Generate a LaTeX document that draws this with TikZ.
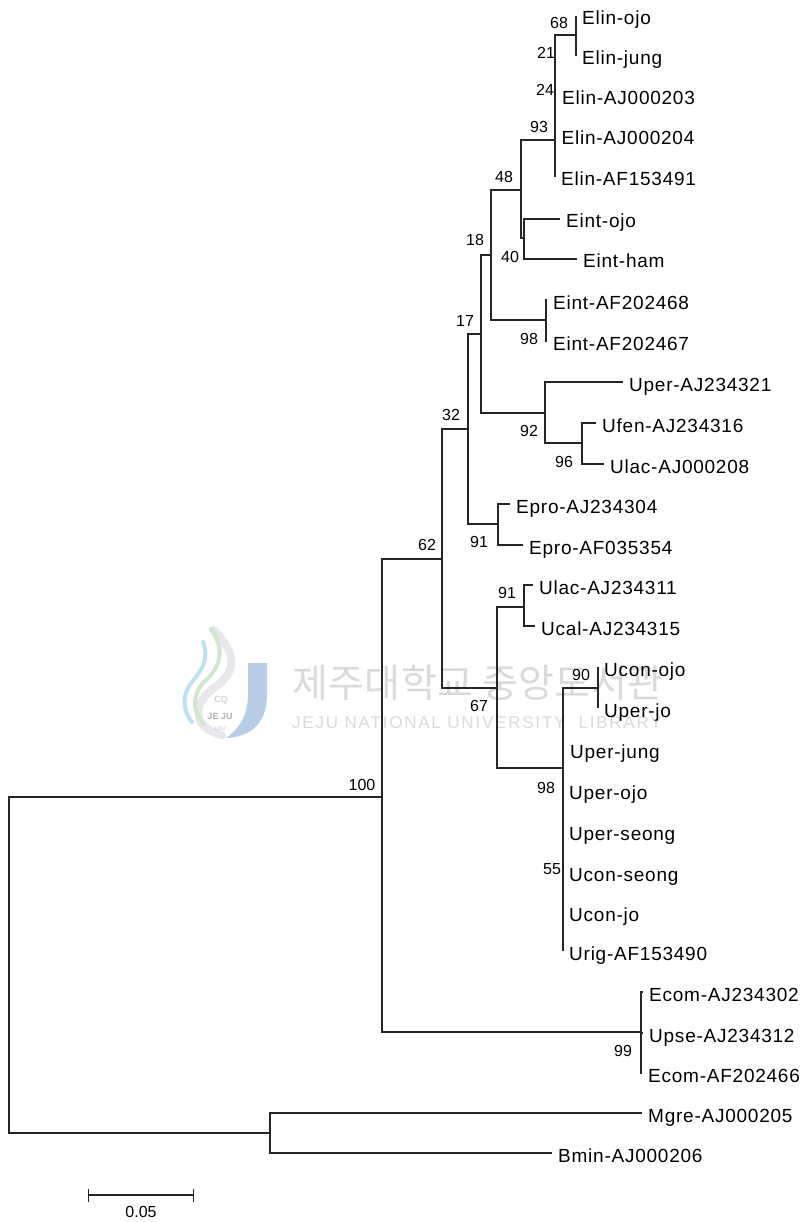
\documentclass[tikz,border=0pt]{standalone}
\usepackage{fontspec}
\setmainfont{Liberation Sans}
\newfontfamily\hangulfont{Noto Sans CJK KR}
\usepackage{tikz}
\usetikzlibrary{arrows.meta,positioning}
\definecolor{wmgray}{RGB}{218,218,218}
\definecolor{wmblue}{RGB}{186,205,230}
\definecolor{wmgreen}{RGB}{208,230,208}
\definecolor{wmsky}{RGB}{190,226,240}
\definecolor{wmsmoke}{RGB}{232,232,236}
\tikzset{
  leaflabel/.style={
    anchor=west,
    inner xsep=6pt,
    inner ysep=0pt,
    text height=23pt,
    text depth=5pt,
    font=\fontsize{19}{20}\selectfont\addfontfeature{LetterSpace=4}
  },
  support/.style={
    inner sep=0pt,
    font=\fontsize{16}{17}\selectfont
  },
  junction/.style={
    inner sep=0pt,
    minimum size=0pt
  },
  branch/.style={line width=1.3pt,black!85},
  scalebar/.style={{Bar[width=13pt,line width=1.2pt]}-{Bar[width=13pt,line width=1.2pt]},line width=1.7pt,black!85}
}
\begin{document}
\begin{tikzpicture}[x=1pt,y=-1pt]
  \useasboundingbox (0,0) rectangle (806,1222);
  % watermark
  \fill[wmblue] (248,663) -- (267,663) -- (267,695) .. controls (267,722) and (252,737) .. (226,738) .. controls (238,730) and (248,716) .. (248,695) -- cycle;
  \draw[wmsmoke,line width=8pt,line cap=round] (214,630) .. controls (238,655) and (236,672) .. (214,688) .. controls (192,704) and (192,728) .. (222,735);
  \draw[wmgreen,line width=4pt,line cap=round] (211,629) .. controls (226,650) and (220,668) .. (204,682) .. controls (192,694) and (192,712) .. (204,724);
  \draw[wmsky,line width=4pt,line cap=round] (203,642) .. controls (210,660) and (200,672) .. (192,682) .. controls (182,694) and (182,710) .. (192,722);
  \node[inner sep=0pt,text=black!25,font=\fontsize{9}{9}\selectfont] (wmcq) at (221,700) {CQ};
  \node[inner sep=0pt,text=black!30,font=\fontsize{9}{9}\bfseries\selectfont] (wmjeju) at (220,716) {JE JU};
  \node[inner sep=0pt,text=black!25,font=\fontsize{5}{5}\selectfont] (wmyear) at (220,729) {1952};
  \node[inner sep=0pt,text=wmgray,anchor=west,font=\fontsize{39}{41}\selectfont\hangulfont\addfontfeature{LetterSpace=1}] (wmname) at (292,683) {제주대학교 중앙도서관};
  \node[inner sep=0pt,text=wmgray,anchor=west,font=\fontsize{17}{18}\selectfont\addfontfeature{LetterSpace=10.5}] (wmlib) at (292,723) {JEJU NATIONAL UNIVERSITY\ \ LIBRARY};

  % internal nodes
  \node[junction] (root) at (9,965) {};
  \node[junction] (out) at (270,1133) {};
  \node[junction] (n100) at (382,797) {};
  \node[junction] (n99) at (641,1032) {};
  \node[junction] (n62) at (442,559) {};
  \node[junction] (n32) at (468,429) {};
  \node[junction] (n67) at (497,688) {};
  \node[junction] (n17) at (481,334) {};
  \node[junction] (nepro) at (498,524) {};
  \node[junction] (n18) at (491,255) {};
  \node[junction] (n92) at (545,413) {};
  \node[junction] (n48) at (521,190) {};
  \node[junction] (neint) at (546,320) {};
  \node[junction] (n93) at (555,140) {};
  \node[junction] (n40) at (524,238) {};
  \node[junction] (n68) at (576,35) {};
  \node[junction] (n96) at (582,443) {};
  \node[junction] (nulac) at (524,607) {};
  \node[junction] (n98) at (563,768) {};
  \node[junction] (n90) at (598,688) {};

  % leaves
  \node[leaflabel] (elinojo) at (576,16) {Elin-ojo};
  \node[leaflabel] (elinjung) at (576,56) {Elin-jung};
  \node[leaflabel] (elin203) at (556,96) {Elin-AJ000203};
  \node[leaflabel] (elin204) at (555.5,136) {Elin-AJ000204};
  \node[leaflabel] (elin491) at (555,177) {Elin-AF153491};
  \node[leaflabel] (eintojo) at (560,219) {Eint-ojo};
  \node[leaflabel] (eintham) at (577,259) {Eint-ham};
  \node[leaflabel] (eint468) at (547,300) {Eint-AF202468};
  \node[leaflabel] (eint467) at (547,341) {Eint-AF202467};
  \node[leaflabel] (uper321) at (623,382) {Uper-AJ234321};
  \node[leaflabel] (ufen316) at (596,423) {Ufen-AJ234316};
  \node[leaflabel] (ulac208) at (604,464) {Ulac-AJ000208};
  \node[leaflabel] (epro304) at (510,504) {Epro-AJ234304};
  \node[leaflabel] (epro354) at (523,545) {Epro-AF035354};
  \node[leaflabel] (ulac311) at (533,585) {Ulac-AJ234311};
  \node[leaflabel] (ucal315) at (535,626) {Ucal-AJ234315};
  \node[leaflabel] (uconojo) at (598,667) {Ucon-ojo};
  \node[leaflabel] (uperjo) at (598,708) {Uper-jo};
  \node[leaflabel] (uperjung) at (564,749) {Uper-jung};
  \node[leaflabel] (uperojo) at (563,790) {Uper-ojo};
  \node[leaflabel] (uperseong) at (563,831) {Uper-seong};
  \node[leaflabel] (uconseong) at (563,872) {Ucon-seong};
  \node[leaflabel] (uconjo) at (563,912) {Ucon-jo};
  \node[leaflabel] (urig490) at (563,951) {Urig-AF153490};
  \node[leaflabel] (ecom302) at (643,992) {Ecom-AJ234302};
  \node[leaflabel] (upse312) at (643,1033) {Upse-AJ234312};
  \node[leaflabel] (ecom466) at (642,1073) {Ecom-AF202466};
  \node[leaflabel] (mgre205) at (642,1113) {Mgre-AJ000205};
  \node[leaflabel] (bmin206) at (552,1153) {Bmin-AJ000206};

  % branches
  \draw[branch] (root) |- (n100);
  \draw[branch] (root) |- (out);
  \draw[branch] (out) |- (mgre205.west);
  \draw[branch] (out) |- (bmin206.west);
  \draw[branch] (n100) |- (n62);
  \draw[branch] (n100) |- (n99);
  \draw[branch] (n99) |- (ecom302.west);
  \draw[branch] (n99) |- (upse312.west);
  \draw[branch] (n99) |- (ecom466.west);
  \draw[branch] (n62) |- (n32);
  \draw[branch] (n62) |- (n67);
  \draw[branch] (n32) |- (n17);
  \draw[branch] (n32) |- (nepro);
  \draw[branch] (nepro) |- (epro304.west);
  \draw[branch] (nepro) |- (epro354.west);
  \draw[branch] (n17) |- (n18);
  \draw[branch] (n17) |- (n92);
  \draw[branch] (n18) |- (n48);
  \draw[branch] (n18) |- (neint);
  \draw[branch] (neint) |- (eint468.west);
  \draw[branch] (neint) |- (eint467.west);
  \draw[branch] (n48) |- (n93);
  \draw[branch] (n48) |- (n40);
  \draw[branch] (n40) |- (eintojo.west);
  \draw[branch] (n40) |- (eintham.west);
  \draw[branch] (n93) |- (n68);
  \draw[branch] (n93) |- (elin203.west);
  \draw[branch] (n93) |- (elin204.west);
  \draw[branch] (n93) |- (elin491.west);
  \draw[branch] (n68) |- (elinojo.west);
  \draw[branch] (n68) |- (elinjung.west);
  \draw[branch] (n92) |- (uper321.west);
  \draw[branch] (n92) |- (n96);
  \draw[branch] (n96) |- (ufen316.west);
  \draw[branch] (n96) |- (ulac208.west);
  \draw[branch] (n67) |- (nulac);
  \draw[branch] (n67) |- (n98);
  \draw[branch] (nulac) |- (ulac311.west);
  \draw[branch] (nulac) |- (ucal315.west);
  \draw[branch] (n98) |- (n90);
  \draw[branch] (n90) |- (uconojo.west);
  \draw[branch] (n90) |- (uperjo.west);
  \draw[branch] (n98) |- (uperjung.west);
  \draw[branch] (n98) |- (uperojo.west);
  \draw[branch] (n98) |- (uperseong.west);
  \draw[branch] (n98) |- (uconseong.west);
  \draw[branch] (n98) |- (uconjo.west);
  \draw[branch] (n98) |- (urig490.west);

  % support values
  \node[support] (bs68) at (559,23) {68};
  \node[support] (bs21) at (546,53) {21};
  \node[support] (bs24) at (545,90) {24};
  \node[support] (bs93) at (539,127) {93};
  \node[support] (bs48) at (504,177) {48};
  \node[support] (bs18) at (475,240) {18};
  \node[support] (bs40) at (510,257) {40};
  \node[support] (bs17) at (465,321) {17};
  \node[support] (bs98a) at (529,339) {98};
  \node[support] (bs32) at (451,415) {32};
  \node[support] (bs92) at (529,431) {92};
  \node[support] (bs96) at (564,462) {96};
  \node[support] (bs91a) at (479,542) {91};
  \node[support] (bs62) at (427,545) {62};
  \node[support] (bs91b) at (507,593) {91};
  \node[support] (bs67) at (479,706) {67};
  \node[support] (bs90) at (581,675) {90};
  \node[support] (bs100) at (362,785) {100};
  \node[support] (bs98b) at (546,788) {98};
  \node[support] (bs55) at (552,869) {55};
  \node[support] (bs99) at (623,1051) {99};

  % scale
  \coordinate (scaleleft) at (88,1195);
  \coordinate (scaleright) at (194,1195);
  \draw[scalebar] (scaleleft) -- (scaleright);
  \node[support,below=11pt of scaleleft,xshift=53pt] (scaletext) {0.05};
\end{tikzpicture}
\end{document}
